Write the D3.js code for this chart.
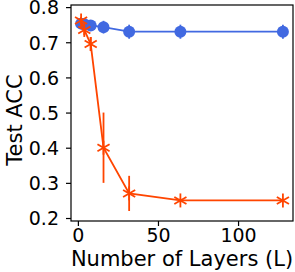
<!DOCTYPE html>
<html>
<head>
<meta charset="utf-8">
<script src="https://cdn.jsdelivr.net/npm/d3@7"></script>
<style>
  body { margin: 0; background: #fff; }
  text { font-family: "DejaVu Sans", sans-serif; }
</style>
</head>
<body>
<div id="chart"></div>
<script>
// layers on the x axis
const layers = [2, 4, 8, 16, 32, 64, 128];
// blue series (mean, error)
const blueAcc = [0.753, 0.751, 0.748, 0.743, 0.73, 0.73, 0.73];
const blueErr = [0.012, 0.012, 0.015, 0.018, 0.02, 0.02, 0.02];
// orange series (mean, error)
const orangeAcc = [0.762, 0.735, 0.695, 0.40, 0.27, 0.25, 0.25];
const orangeErr = [0.01, 0.015, 0.02, 0.10, 0.05, 0.005, 0.005];
const xTicks = [0, 50, 100];
const yTicks = [0.2, 0.3, 0.4, 0.5, 0.6, 0.7, 0.8];

const W = 295, H = 272;
const m = {left: 71, right: 2, top: 5, bottom: 51};

const svg = d3.select('#chart').append('svg')
    .attr('width', W)
    .attr('height', H);

const x = d3.scaleLinear()
    .domain([-4.3, 134.3])
    .range([m.left, W - m.right]);

const y = d3.scaleLinear()
    .domain([0.1915, 0.806])
    .range([H - m.bottom, m.top]);

// axes
const xAxis = svg.append('g')
    .attr('transform', `translate(0,${H - m.bottom})`)
    .call(d3.axisBottom(x).tickValues(xTicks).tickSize(5).tickPadding(3).tickFormat(d3.format('d')));
const yAxis = svg.append('g')
    .attr('transform', `translate(${m.left},0)`)
    .call(d3.axisLeft(y).tickValues(yTicks).tickSize(5).tickPadding(7).tickFormat(d3.format('.1f')));

for (const ax of [xAxis, yAxis]) {
    ax.select('.domain').remove();
    ax.selectAll('text').style('font-size', '19px').attr('fill', '#000');
    ax.selectAll('line').attr('stroke', '#000').attr('stroke-width', 1.2);
}
yAxis.selectAll('text').attr('dy', '0.36em');

// frame
svg.append('rect')
    .attr('x', m.left)
    .attr('y', m.top)
    .attr('width', W - m.right - m.left)
    .attr('height', H - m.bottom - m.top)
    .attr('fill', 'none')
    .attr('stroke', '#000')
    .attr('stroke-width', 1.2);

function drawSeries(vals, errs, color, marker) {
    const pts = layers.map((l, i) => ({l: l, v: vals[i], e: errs[i]}));
    const g = svg.append('g');
    g.append('path')
        .datum(pts)
        .attr('fill', 'none')
        .attr('stroke', color)
        .attr('stroke-width', 1.8)
        .attr('d', d3.line().x(d => x(d.l)).y(d => y(d.v)));
    g.selectAll('line.err')
        .data(pts)
        .join('line')
        .attr('class', 'err')
        .attr('x1', d => x(d.l)).attr('x2', d => x(d.l))
        .attr('y1', d => y(d.v - d.e)).attr('y2', d => y(d.v + d.e))
        .attr('stroke', color)
        .attr('stroke-width', 1.8);
    if (marker === 'circle') {
        g.selectAll('circle')
            .data(pts)
            .join('circle')
            .attr('cx', d => x(d.l))
            .attr('cy', d => y(d.v))
            .attr('r', 6)
            .attr('fill', color);
    } else {
        // asterisk: three strokes
        const r = 7;
        const s = g.selectAll('g.ast')
            .data(pts)
            .join('g')
            .attr('class', 'ast')
            .attr('transform', d => `translate(${x(d.l)},${y(d.v)})`);
        for (const a of [90, 30, 150]) {
            const dx = r * Math.cos(a * Math.PI / 180), dy = r * Math.sin(a * Math.PI / 180);
            s.append('line')
                .attr('x1', -dx).attr('y1', -dy)
                .attr('x2', dx).attr('y2', dy)
                .attr('stroke', color)
                .attr('stroke-width', 1.8);
        }
    }
}

drawSeries(blueAcc, blueErr, '#4169e1', 'circle');
drawSeries(orangeAcc, orangeErr, '#ff4500', 'asterisk');

// labels
svg.append('text')
    .attr('x', (m.left + W - m.right) / 2)
    .attr('y', 266)
    .attr('text-anchor', 'middle')
    .style('font-size', '21px')
    .text('Number of Layers (L)');

svg.append('text')
    .attr('transform', `translate(22,${(m.top + H - m.bottom) / 2 + 7}) rotate(-90)`)
    .attr('text-anchor', 'middle')
    .style('font-size', '21px')
    .text('Test ACC');
</script>
</body>
</html>
